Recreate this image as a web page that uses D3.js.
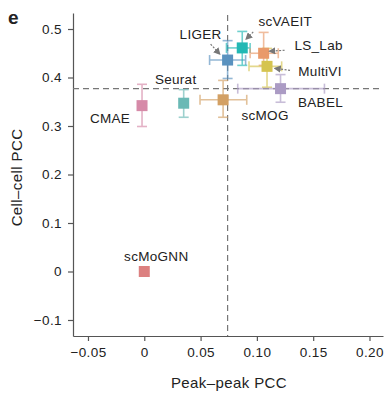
<!DOCTYPE html>
<html>
<head>
<meta charset="utf-8">
<script src="https://cdn.jsdelivr.net/npm/d3@7"></script>
<style>
  body { margin: 0; background: #fff; }
  svg text { font-family: "Liberation Sans", Arial, sans-serif; fill: #222; }
</style>
</head>
<body>
<div id="chart"></div>
<script>
// methods and their summary values
const methods = ["CMAE", "Seurat", "scMOG", "LIGER", "scVAEIT", "LS_Lab", "MultiVI", "BABEL", "scMoGNN"];
const peakPCC = [-0.002, 0.035, 0.070, 0.074, 0.087, 0.106, 0.109, 0.121, 0.000];
const peakLo  = [null, null, 0.0495, 0.058, 0.073, 0.094, 0.093, 0.083, null];
const peakHi  = [null, null, 0.091, 0.090, 0.094, 0.119, 0.122, 0.160, null];
const cellPCC = [0.342, 0.347, 0.354, 0.436, 0.461, 0.450, 0.423, 0.377, 0.000];
const cellLo  = [0.299, 0.318, 0.318, 0.398, 0.425, 0.425, 0.380, 0.349, null];
const cellHi  = [0.386, 0.375, 0.394, 0.476, 0.495, 0.493, 0.460, 0.406, null];
const colors  = ["#d68aa8", "#6ab9b5", "#d3a064", "#5a92bf", "#22b8b4", "#e99a6a", "#d5c450", "#ab9bc4", "#dc8080"];

// reference lines
const refX = 0.074;
const refY = 0.377;

const xTicks = [-0.05, 0, 0.05, 0.10, 0.15, 0.20];
const xTickLabels = ["\u22120.05", "0", "0.05", "0.10", "0.15", "0.20"];
const yTicks = [-0.1, 0, 0.1, 0.2, 0.3, 0.4, 0.5];
const yTickLabels = ["\u22120.1", "0", "0.1", "0.2", "0.3", "0.4", "0.5"];

// label placement (pixel offsets from the point, arrow tail/head offsets)
const labelLayout = {
  CMAE:    {dx: -32, dy: 14},
  Seurat:  {dx: -8, dy: -23},
  scMOG:   {dx: 42, dy: 17},
  LIGER:   {dx: -27, dy: -25, arrow: [[-17, -16], [-8, -6]]},
  scVAEIT: {dx: 43, dy: -25, arrow: [[11, -16], [4, -9]]},
  LS_Lab:  {dx: 55, dy: -7, arrow: [[21, -3], [6, -2]]},
  MultiVI: {dx: 53, dy: 6, arrow: [[23, 4], [8, 2]]},
  BABEL:   {dx: 40, dy: 15},
  scMoGNN: {dx: 12, dy: -14}
};

const W = 388, H = 393;
const margin = {left: 73, right: 5, top: 13, bottom: 57};

const svg = d3.select("#chart").append("svg")
  .attr("width", W).attr("height", H);

const x = d3.scaleLinear().domain([-0.0633, 0.212]).range([margin.left, W - margin.right]);
const y = d3.scaleLinear().domain([-0.133, 0.533]).range([H - margin.bottom, margin.top]);

svg.append("defs").append("marker")
  .attr("id", "arrow")
  .attr("viewBox", "0 0 10 10")
  .attr("refX", 8).attr("refY", 5)
  .attr("markerWidth", 6).attr("markerHeight", 6)
  .attr("orient", "auto")
  .append("path")
  .attr("d", "M0,0 L10,5 L0,10 z")
  .attr("fill", "#777");

// axes
const xAxis = svg.append("g")
  .attr("transform", `translate(0,${H - margin.bottom})`)
  .call(d3.axisBottom(x).tickValues(xTicks).tickFormat((d, i) => xTickLabels[i]).tickSize(5).tickPadding(6).tickSizeOuter(0));
const yAxis = svg.append("g")
  .attr("transform", `translate(${margin.left},0)`)
  .call(d3.axisLeft(y).tickValues(yTicks).tickFormat((d, i) => yTickLabels[i]).tickSize(5).tickPadding(6).tickSizeOuter(0));

[xAxis, yAxis].forEach(a => {
  a.select(".domain").attr("stroke", "#555").attr("stroke-width", 1.2);
  a.selectAll(".tick line").attr("stroke", "#555").attr("stroke-width", 1.2);
  a.selectAll(".tick text").attr("font-size", 13.5).attr("fill", "#222")
    .style("letter-spacing", "0.4px");
});

// dashed reference lines
svg.append("line")
  .attr("x1", margin.left).attr("x2", W - margin.right)
  .attr("y1", y(refY)).attr("y2", y(refY))
  .attr("stroke", "#777").attr("stroke-width", 1.2).attr("stroke-dasharray", "6,4");
svg.append("line")
  .attr("x1", x(refX)).attr("x2", x(refX))
  .attr("y1", margin.top + 2).attr("y2", H - margin.bottom)
  .attr("stroke", "#777").attr("stroke-width", 1.2).attr("stroke-dasharray", "6,4");

const rows = methods.map((m, i) => ({
  name: m, x: peakPCC[i], y: cellPCC[i],
  xlo: peakLo[i], xhi: peakHi[i], ylo: cellLo[i], yhi: cellHi[i], color: colors[i]
}));

const cap = 5;
const bars = svg.append("g");
rows.forEach(d => {
  const g = bars.append("g").attr("stroke", d.color).attr("stroke-width", 1.6).attr("opacity", 0.65);
  if (d.ylo != null) {
    g.append("line").attr("x1", x(d.x)).attr("x2", x(d.x)).attr("y1", y(d.ylo)).attr("y2", y(d.yhi));
    [d.ylo, d.yhi].forEach(v => g.append("line")
      .attr("x1", x(d.x) - cap).attr("x2", x(d.x) + cap).attr("y1", y(v)).attr("y2", y(v)));
  }
  if (d.xlo != null) {
    g.append("line").attr("y1", y(d.y)).attr("y2", y(d.y)).attr("x1", x(d.xlo)).attr("x2", x(d.xhi));
    [d.xlo, d.xhi].forEach(v => g.append("line")
      .attr("y1", y(d.y) - cap).attr("y2", y(d.y) + cap).attr("x1", x(v)).attr("x2", x(v)));
  }
});

const sq = 11;
svg.append("g").selectAll("rect")
  .data(rows)
  .join("rect")
  .attr("x", d => x(d.x) - sq / 2)
  .attr("y", d => y(d.y) - sq / 2)
  .attr("width", sq).attr("height", sq)
  .attr("fill", d => d.color);

// labels and arrows
rows.forEach(d => {
  const L = labelLayout[d.name];
  const px = x(d.x), py = y(d.y);
  svg.append("text")
    .attr("x", px + L.dx).attr("y", py + L.dy)
    .attr("text-anchor", "middle")
    .attr("dominant-baseline", "middle")
    .attr("font-size", 13.5)
    .style("letter-spacing", "0.3px")
    .text(d.name);
  if (L.arrow) {
    svg.append("line")
      .attr("x1", px + L.arrow[0][0]).attr("y1", py + L.arrow[0][1])
      .attr("x2", px + L.arrow[1][0]).attr("y2", py + L.arrow[1][1])
      .attr("stroke", "#777").attr("stroke-width", 1.2)
      .attr("stroke-dasharray", "2,1.5")
      .attr("marker-end", "url(#arrow)");
  }
});

// axis titles
svg.append("text")
  .attr("x", (margin.left + W - margin.right) / 2 + 1).attr("y", 388)
  .attr("text-anchor", "middle").attr("font-size", 15)
  .style("letter-spacing", "0.4px")
  .text("Peak\u2013peak PCC");
svg.append("text")
  .attr("transform", `translate(22,${(margin.top + H - margin.bottom) / 2 + 3}) rotate(-90)`)
  .attr("text-anchor", "middle").attr("font-size", 15)
  .style("letter-spacing", "0.4px")
  .text("Cell\u2013cell PCC");

// panel letter
svg.append("text")
  .attr("x", 8).attr("y", 24)
  .attr("font-size", 19).attr("font-weight", "bold")
  .text("e");
</script>
</body>
</html>
